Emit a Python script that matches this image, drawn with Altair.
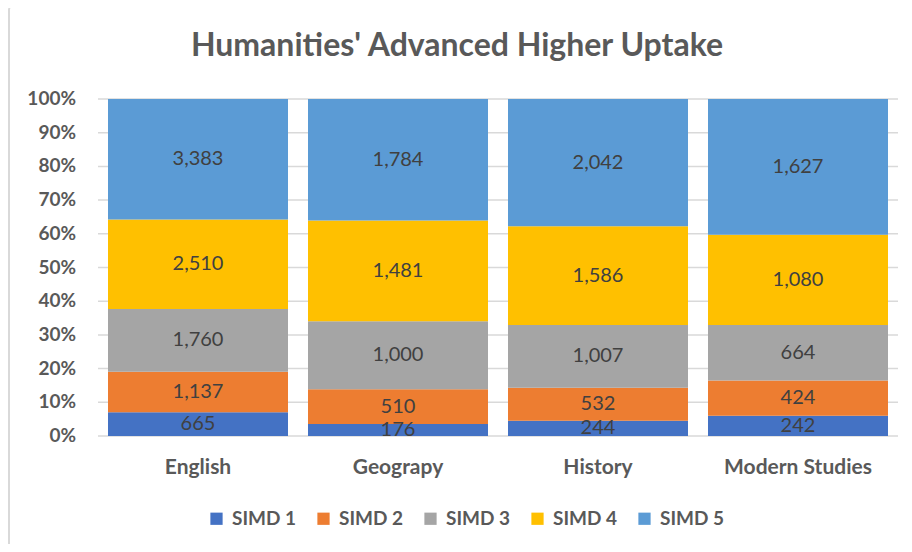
import altair as alt
import pandas as pd

subjects = ["English", "Geograpy", "History", "Modern Studies"]
groups = ["SIMD 1", "SIMD 2", "SIMD 3", "SIMD 4", "SIMD 5"]
colors = ["#4472C4", "#ED7D31", "#A5A5A5", "#FFC000", "#5B9BD5"]
simd1 = [665, 176, 244, 242]
simd2 = [1137, 510, 532, 424]
simd3 = [1760, 1000, 1007, 664]
simd4 = [2510, 1481, 1586, 1080]
simd5 = [3383, 1784, 2042, 1627]
pct_ticks = [0, 10, 20, 30, 40, 50, 60, 70, 80, 90, 100]
pct_labels = ["0%", "10%", "20%", "30%", "40%", "50%", "60%", "70%", "80%", "90%", "100%"]

rows = []
for gi, (g, vals) in enumerate(zip(groups, [simd1, simd2, simd3, simd4, simd5])):
    for s, v in zip(subjects, vals):
        rows.append({"subject": s, "group": g, "order": gi, "value": v})
df = pd.DataFrame(rows)
ticks_df = pd.DataFrame({"tick": pct_ticks, "label": pct_labels})

FONT = "Lato"
GREY = "#595959"

x_axis = alt.Axis(title=None, labelAngle=0, domain=False, ticks=False,
                  labelFont=FONT, labelFontSize=21, labelFontWeight="bold",
                  labelColor=GREY, labelPadding=20, grid=False)
x_scale = alt.Scale(paddingInner=0.1, paddingOuter=0.05)
y_scale = alt.Scale(domain=[0, 100], nice=False)

# y-axis gridlines and labels, placed through the shared y scale
grid = alt.Chart(ticks_df).mark_rule(color="#D9D9D9", strokeWidth=1.5).encode(
    y=alt.Y("tick:Q", scale=y_scale, axis=None),
    x=alt.value(0), x2=alt.value(800),
)
ylabels = alt.Chart(ticks_df).mark_text(
    font=FONT, fontSize=19, fontWeight="bold", color=GREY, align="right", baseline="middle"
).encode(
    y=alt.Y("tick:Q", scale=y_scale, axis=None),
    x=alt.value(-22),
    text="label:N",
)

base = alt.Chart(df).transform_stack(
    stack="value", groupby=["subject"], as_=["y0", "y1"],
    offset="normalize", sort=[alt.SortField("order", order="ascending")]
).transform_calculate(
    p0="datum.y0 * 100", p1="datum.y1 * 100", mid="(datum.y0 + datum.y1) * 50"
)

bars = base.mark_bar().encode(
    x=alt.X("subject:N", sort=subjects, scale=x_scale, axis=x_axis),
    y=alt.Y("p0:Q", scale=y_scale, axis=None),
    y2="p1:Q",
    color=alt.Color("group:N", sort=groups,
                    scale=alt.Scale(domain=groups, range=colors),
                    legend=alt.Legend(title=None, orient="none", direction="horizontal",
                                      columns=5, legendX=109, legendY=410,
                                      symbolType="square", symbolSize=150,
                                      symbolStrokeWidth=0, symbolOpacity=1,
                                      labelFont=FONT, labelFontSize=19,
                                      labelFontWeight="bold", labelColor=GREY,
                                      columnPadding=17, symbolOffset=0,
                                      labelOffset=6)),
    order=alt.Order("order:Q"),
)

labels = base.mark_text(font=FONT, fontSize=20, color="#404040", baseline="middle").encode(
    x=alt.X("subject:N", sort=subjects, scale=x_scale, axis=x_axis),
    y=alt.Y("mid:Q", scale=y_scale, axis=None),
    text=alt.Text("value:Q", format=","),
)

frame = alt.Chart(pd.DataFrame({"a": [0]})).mark_rect(
    fill=None, stroke="#D9D9D9", strokeWidth=2, cornerRadius=4
).encode(x=alt.value(-89), x2=alt.value(830), y=alt.value(-93), y2=alt.value(450))

chart = alt.layer(grid, ylabels, bars, labels, frame).properties(
    width=800, height=337,
    padding={"left": 90, "top": 91, "right": 6, "bottom": 108},
    autosize=alt.AutoSizeParams(type="none"),
    title=alt.TitleParams("Humanities' Advanced Higher Uptake", font=FONT, fontSize=32,
                          fontWeight="bold", color=GREY, anchor="middle", dx=-41,
                          offset=-58),
).configure_view(stroke=None)

chart.save("out.html", embed_options={"renderer": "svg", "actions": False})
